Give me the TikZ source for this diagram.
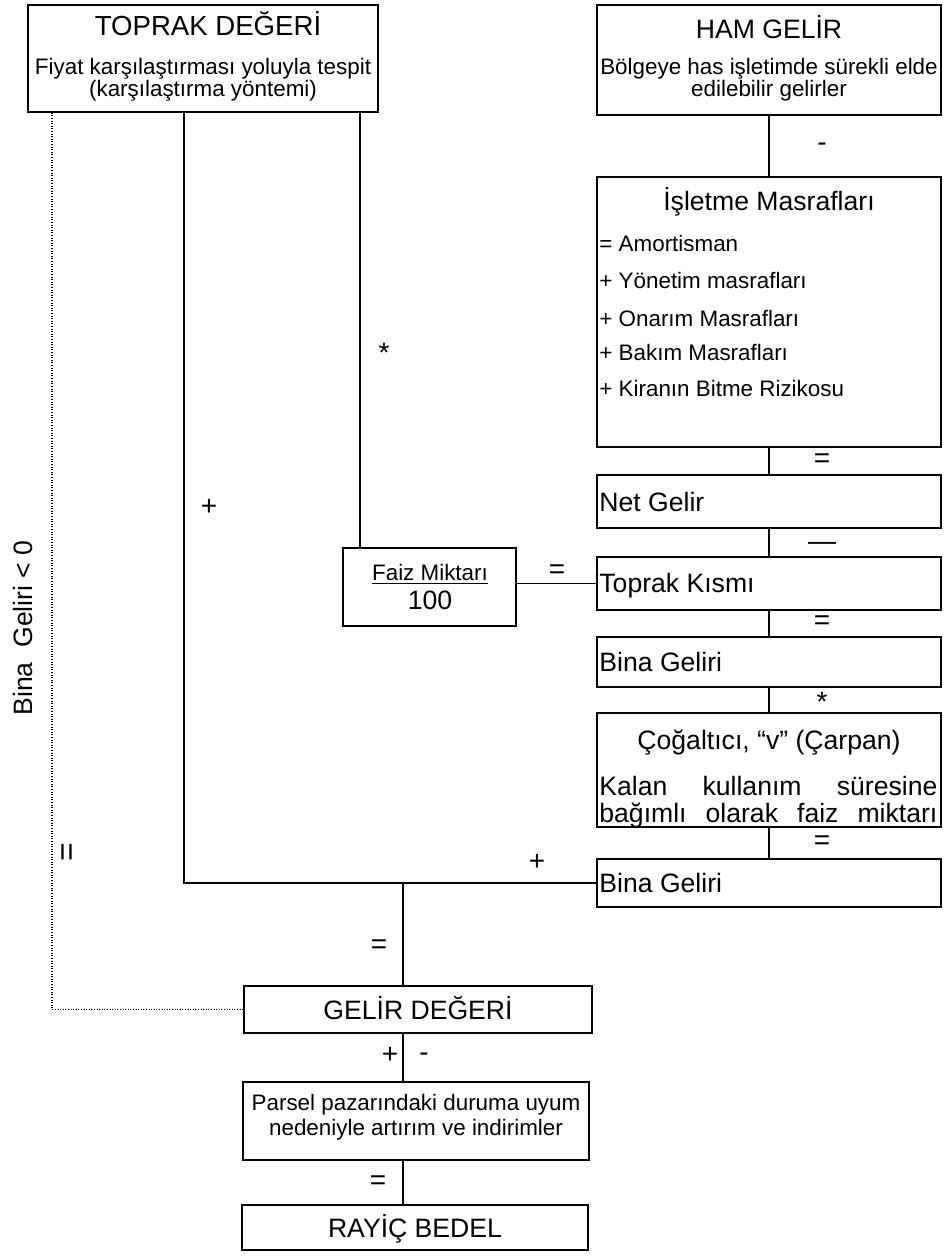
\documentclass[tikz,border=0pt]{standalone}
\usepackage{fontspec}
\setmainfont{Liberation Sans}
\usetikzlibrary{fit}
\begin{document}
\begin{tikzpicture}[x=0.5pt,y=-0.5pt,
  box/.style={draw, line width=0.9pt, inner sep=0pt},
  conn/.style={line width=0.9pt},
  dotconn/.style={line width=0.9pt, dash pattern=on 0.5pt off 0.8pt},
  big/.style={font=\fontsize{13.3}{16}\selectfont, inner sep=0pt},
  small/.style={font=\fontsize{11.2}{13.5}\selectfont, inner sep=0pt},
  sign/.style={font=\fontsize{14}{16}\selectfont, inner sep=0pt},
]
\useasboundingbox[fill=white] (0,0) rectangle (943,1257);

% boxes
\node[box, fit={(28,5) (378,112)}] (toprak) {};
\node[box, fit={(597,5) (941,115)}] (ham) {};
\node[box, fit={(597,177) (941,447)}] (isl) {};
\node[box, fit={(597,475) (941,528)}] (net) {};
\node[box, fit={(597,557) (941,610)}] (tk) {};
\node[box, fit={(597,637) (941,687)}] (bgA) {};
\node[box, fit={(597,713) (941,827)}] (cog) {};
\node[box, fit={(597,859) (941,907)}] (bgB) {};
\node[box, fit={(343,548) (516,626)}] (faiz) {};
\node[box, fit={(244,986) (592,1033)}] (gd) {};
\node[box, fit={(243,1082) (589,1160)}] (parsel) {};
\node[box, fit={(242,1205) (588,1250)}] (rb) {};

% texts
\node[big, font=\fontsize{13.8}{16}\selectfont, anchor=base] (t1) at (208,36) {TOPRAK DEĞERİ};
\node[small, anchor=base] (t2) at (203,75) {Fiyat karşılaştırması yoluyla tespit};
\node[small, anchor=base] (t3) at (203,97) {(karşılaştırma yöntemi)};

\node[big, anchor=base] (h1) at (769,39) {HAM GELİR};
\node[small, anchor=base] (h2) at (769,75) {Bölgeye has işletimde sürekli elde};
\node[small, anchor=base] (h3) at (769,97) {edilebilir gelirler};

\node[big, anchor=base] (i0) at (769,211) {İşletme Masrafları};
\node[small, anchor=base west] (i1) at (599,251) {= Amortisman};
\node[small, anchor=base west] (i2) at (599,288) {+ Yönetim masrafları};
\node[small, anchor=base west] (i3) at (599,326) {+ Onarım Masrafları};
\node[small, anchor=base west] (i4) at (599,360) {+ Bakım Masrafları};
\node[small, anchor=base west] (i5) at (599,396) {+ Kiranın Bitme Rizikosu};

\node[big, anchor=base west] (n1) at (599,511) {Net Gelir};
\node[big, anchor=base west] (k1) at (599,592) {Toprak Kısmı};
\node[big, anchor=base west] (b1) at (599,671) {Bina Geliri};
\node[big, anchor=base] (c1) at (769,749) {Çoğaltıcı, “v” (Çarpan)};
\node[big, anchor=base west] (c2) at (599,795) {\makebox[169pt][s]{Kalan kullanım süresine}};
\node[big, anchor=base west] (c3) at (599,822) {\makebox[169pt][s]{bağımlı olarak faiz miktarı}};
\node[big, anchor=base west] (b2) at (599,892) {Bina Geliri};

\node[small, anchor=base] (f1) at (430,580) {\underline{Faiz Miktarı}};
\node[big, anchor=base] (f2) at (430,609) {100};

\node[big, anchor=base] (g1) at (418,1019) {GELİR DEĞERİ};
\node[small, anchor=base] (p1) at (416,1110) {Parsel pazarındaki duruma uyum};
\node[small, anchor=base] (p2) at (416,1135) {nedeniyle artırım ve indirimler};
\node[big, anchor=base] (r1) at (415,1237) {RAYİÇ BEDEL};

\node[big, rotate=90] (bl) at (23,628) {Bina\ \ Geliri < 0};

% signs
\node[sign] (s1) at (822,147) {-};
\node[sign] (s2) at (822,461) {=};
\node[sign] (s3) at (822,546) {—};
\node[sign] (s4) at (822,623) {=};
\node[sign] (s5) at (822,702) {*};
\node[sign] (s6) at (822,843) {=};
\node[sign] (s7) at (384,353) {*};
\node[sign] (s8) at (209,507) {+};
\node[sign] (s9) at (557,572) {=};
\node[sign] (s10) at (537,862) {+};
\node[sign] (s11) at (379,947) {=};
\node[sign] (s12) at (390,1055) {+};
\node[sign] (s13) at (424,1057) {-};
\node[sign] (s14) at (378,1183) {=};
\node[sign, font=\fontsize{16}{18}\selectfont, rotate=90] (s15) at (70,852) {=};

% connectors right column
\draw[conn] (ham.south) -- (isl.north);
\draw[conn] (isl.south) -- (net.north);
\draw[conn] (net.south) -- (tk.north);
\draw[conn] (tk.south) -- (bgA.north);
\draw[conn] (bgA.south) -- (cog.north);
\draw[conn] (cog.south) -- (bgB.north);

% connectors from TOPRAK
\coordinate (fz) at (360,548);
\draw[conn] (toprak.south -| fz) -- (faiz.north -| fz);
\draw[conn] (faiz.east |- tk.west) -- (tk.west);
\coordinate (jA) at (184,883);
\coordinate (jB) at (403,883);
\draw[conn] (toprak.south -| jA) -- (jA) -- (bgB.west);
\draw[conn] (jB) -- (gd.north -| jB);
\draw[conn] (gd.south -| jB) -- (parsel.north -| jB);
\draw[conn] (parsel.south -| jB) -- (rb.north -| jB);
\coordinate (dc) at (52,1009.5);
\draw[dotconn] (toprak.south -| dc) -- (dc) -- (gd.west);
\end{tikzpicture}
\end{document}
